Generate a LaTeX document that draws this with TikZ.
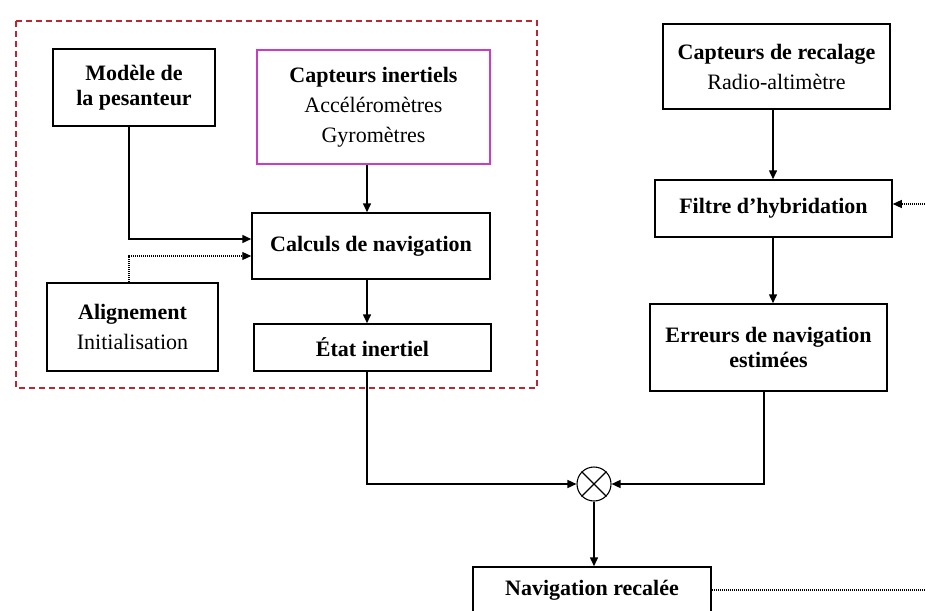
\documentclass[tikz,border=0pt]{standalone}
\usepackage{fontspec}
\setmainfont{Liberation Serif}
\usetikzlibrary{arrows.meta}
\definecolor{dashred}{RGB}{185,40,50}
\definecolor{magbox}{RGB}{200,60,200}
\begin{document}
\begin{tikzpicture}[x=1pt,y=-1pt,
  box/.style={draw, line width=1.5pt, rectangle, inner sep=0pt, align=center,
    font=\fontsize{22}{30}\selectfont},
  arr/.style={line width=1.5pt, -{Triangle[length=9pt,width=8pt]}},
  dotline/.style={line width=1.1pt, dash pattern=on 1pt off 1pt}]
\useasboundingbox (0,0) rectangle (925,610);
\fill[white] (0,0) rectangle (925,610);
% dashed frame
\draw[dashred, line width=1.3pt, dash pattern=on 6pt off 4pt] (16,21) rectangle (537,388);
% nodes
\node[box, minimum width=162pt, minimum height=77pt] (modele) at (134,87.5)
  {\textbf{Modèle de}\\[-5pt]\textbf{la pesanteur}};
\node[box, draw=magbox, minimum width=233pt, minimum height=114pt] (capi) at (373.5,107)
  {\textbf{Capteurs inertiels}\\Accéléromètres\\Gyromètres};
\node[box, minimum width=238pt, minimum height=66pt] (calc) at (371,246)
  {\textbf{Calculs de navigation}};
\node[box, minimum width=237pt, minimum height=47pt] (etat) at (372.5,347.5)
  {\textbf{État inertiel}};
\node[box, minimum width=171pt, minimum height=88pt] (align) at (132.5,327)
  {\textbf{Alignement}\\Initialisation};
\node[box, minimum width=227pt, minimum height=85pt] (caprec) at (776.5,66.5)
  {\textbf{Capteurs de recalage}\\Radio-altimètre};
\node[box, minimum width=237pt, minimum height=57pt] (filtre) at (773.5,208.5)
  {\textbf{Filtre d’hybridation}};
\node[box, minimum width=237pt, minimum height=87pt] (err) at (768.5,347.5)
  {\textbf{Erreurs de navigation}\\[-5pt]\textbf{estimées}};
\node[box, minimum width=238pt, minimum height=46pt] (nav) at (592,590)
  {\textbf{Navigation recalée}};
\node[draw, circle, line width=1.1pt, minimum size=34pt, inner sep=0pt] (circ) at (594,484) {};
\draw[line width=1.1pt] (circ.north west) -- (circ.south east);
\draw[line width=1.1pt] (circ.north east) -- (circ.south west);
% coordinates
\coordinate (m1) at (129,239);
\coordinate (a1) at (129,256);
\coordinate (c1) at (367,0);
\coordinate (e1) at (764,0);
\coordinate (f1) at (773,0);
\coordinate (r1) at (925,204);
\coordinate (r2) at (925,590);
% connectors
\draw[arr] (modele.south -| m1) |- (calc.west |- m1);
\draw[arr, dotline] (align.north -| a1) |- (calc.west |- a1);
\draw[arr] (capi.south -| c1) -- (calc.north -| c1);
\draw[arr] (calc.south -| c1) -- (etat.north -| c1);
\draw[arr] (etat.south -| c1) |- (circ.west);
\draw[arr] (err.south -| e1) |- (circ.east);
\draw[arr] (circ.south) -- (nav.north -| circ.south);
\draw[arr] (caprec.south -| f1) -- (filtre.north -| f1);
\draw[arr] (filtre.south -| f1) -- (err.north -| f1);
\draw[arr, dotline] (r1) -- (filtre.east |- r1);
\draw[dotline] (nav.east |- r2) -- (r2);
\end{tikzpicture}
\end{document}
